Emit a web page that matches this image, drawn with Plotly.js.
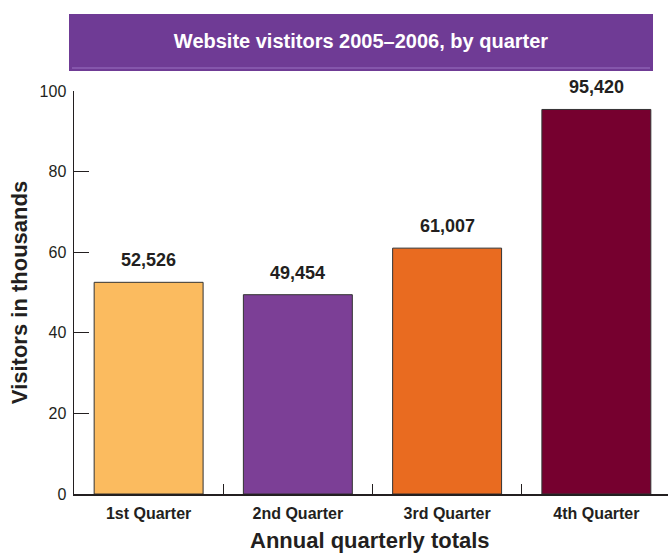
<!DOCTYPE html>
<html>
<head>
<meta charset="utf-8">
<script src="https://cdn.plot.ly/plotly-3.0.1.min.js"></script>
<style>html,body{margin:0;padding:0;background:#fff;}#chart{width:668px;height:553px;}</style>
</head>
<body>
<div id="chart"></div>
<script>
const categories = ["1st Quarter", "2nd Quarter", "3rd Quarter", "4th Quarter"];
const visitors = [52.526, 49.454, 61.007, 95.420];
const valueLabels = ["52,526", "49,454", "61,007", "95,420"];
const barColors = ["#fbbb5f", "#7c3f96", "#e96b20", "#76002f"];
const yTicks = [0, 20, 40, 60, 80, 100];
const xTitle = "Annual quarterly totals";
const yTitle = "Visitors in thousands";
const chartTitle = "Website vistitors 2005–2006, by quarter";

const FONT = "Liberation Sans, Arial, sans-serif";

const trace = {
  type: "bar",
  x: categories,
  y: visitors,
  width: 0.73,
  marker: { color: barColors, line: { color: "#333333", width: 1 } },
  hoverinfo: "skip"
};

const annotations = categories.map((c, i) => ({
  x: c, y: visitors[i], xref: "x", yref: "y",
  text: valueLabels[i], showarrow: false, yshift: 22,
  font: { family: FONT, size: 18, color: "#231f20", weight: "bold" }
}));

annotations.push({
  xref: "paper", yref: "paper", x: (370 - 74) / 594, y: 0,
  xanchor: "center", yanchor: "middle", yshift: -46,
  text: "<b>" + xTitle + "</b>", showarrow: false,
  font: { family: FONT, size: 22, color: "#231f20" }
});

const layout = {
  width: 668, height: 553,
  margin: { l: 74, r: 0, t: 91, b: 59 },
  paper_bgcolor: "#ffffff", plot_bgcolor: "#ffffff",
  showlegend: false,
  title: {
    text: "<b>" + chartTitle + "</b>",
    font: { family: FONT, size: 20, color: "#ffffff" },
    x: 361 / 668, xanchor: "center",
    y: 1 - 41 / 553, yanchor: "middle"
  },
  shapes: [
    { type: "rect", xref: "paper", yref: "paper", layer: "below",
      x0: (69 - 74) / 594, x1: (653 - 74) / 594,
      y0: (494 - 71) / 403, y1: (494 - 14) / 403,
      fillcolor: "#6f3b95", line: { width: 0 } },
    { type: "line", xref: "paper", yref: "paper",
      x0: (72 - 74) / 594, x1: (650 - 74) / 594,
      y0: (494 - 68) / 403, y1: (494 - 68) / 403,
      line: { color: "#9b72c2", width: 1 } }
  ],
  xaxis: {
    type: "category",
    range: [-0.5, 3.48],
    showline: true, linecolor: "#231f20", linewidth: 1.5,
    ticks: "inside", tickson: "boundaries", ticklen: 10, tickcolor: "#231f20", tickwidth: 1,
    showgrid: false, zeroline: false,
    tickfont: { family: FONT, size: 16, color: "#231f20", weight: "bold" },
    ticklabelstandoff: 4
  },
  yaxis: {
    range: [0, 100],
    tickvals: yTicks,
    showline: true, linecolor: "#231f20", linewidth: 1.5,
    ticks: "inside", ticklen: 15, tickcolor: "#231f20", tickwidth: 1,
    showgrid: false, zeroline: false,
    tickfont: { family: FONT, size: 16, color: "#231f20" },
    ticklabelstandoff: 3,
    title: { text: "<b>" + yTitle + "</b>", font: { family: FONT, size: 22, color: "#231f20" }, standoff: 6 }
  },
  annotations: annotations
};

Plotly.newPlot("chart", [trace], layout, { displayModeBar: false, staticPlot: true });
</script>
</body>
</html>
